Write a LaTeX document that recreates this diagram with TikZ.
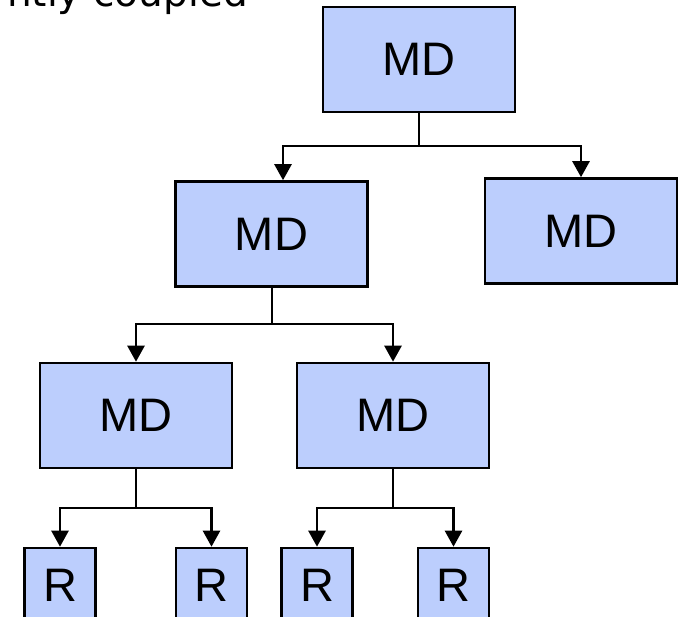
\documentclass[tikz,border=0pt]{standalone}
\usepackage{fontspec}
\setmainfont{Liberation Sans}
\newfontfamily\topfont{DejaVu Sans}
\usetikzlibrary{arrows.meta}
\definecolor{boxblue}{RGB}{188,206,253}
\tikzset{
  mdbox/.style={draw=black, line width=2.6pt, fill=boxblue, minimum width=192pt, minimum height=105pt, inner sep=0pt, font=\fontsize{47}{50}\selectfont},
  rbox/.style={draw=black, line width=2.6pt, fill=boxblue, minimum width=71pt, minimum height=74pt, inner sep=0pt, font=\fontsize{47}{50}\selectfont},
  conn/.style={draw=black, line width=2.6pt},
  arr/.style={conn, -{Triangle[width=17pt,length=16pt]}}
}
\begin{document}
\begin{tikzpicture}[x=1pt, y=-1pt]
\useasboundingbox (0,0) rectangle (685,617);
\clip (0,0) rectangle (685,617);
\node[anchor=base east, inner sep=0pt, font=\topfont\fontsize{39}{44}\selectfont] (title) at (248,7) {ntly coupled};
\node[mdbox] (t) at (419,59.5) {MD};
\node[mdbox] (ml) at (271.5,234) {MD};
\node[mdbox] (mr) at (581,231) {MD};
\node[mdbox] (bl) at (136,415.5) {MD};
\node[mdbox] (br) at (393,415.5) {MD};
\node[rbox] (r1) at (60,585) {R};
\node[rbox] (r2) at (211.5,585) {R};
\node[rbox] (r3) at (317,585) {R};
\node[rbox] (r4) at (453.5,585) {R};
\coordinate (j1) at (419,146);
\coordinate (j2) at (272,324);
\coordinate (j3) at (136,508);
\coordinate (j4) at (393,508);
\draw[conn] (t.south) -- (j1);
\draw[arr] (j1) -| ([xshift=11.5pt]ml.north);
\draw[arr] (j1) -| (mr.north);
\draw[conn] (ml.south -| j2) -- (j2);
\draw[arr] (j2) -| (bl.north);
\draw[arr] (j2) -| (br.north);
\draw[conn] (bl.south) -- (j3);
\draw[arr] (j3) -| (r1.north);
\draw[arr] (j3) -| (r2.north);
\draw[conn] (br.south) -- (j4);
\draw[arr] (j4) -| (r3.north);
\draw[arr] (j4) -| (r4.north);
\end{tikzpicture}
\end{document}
